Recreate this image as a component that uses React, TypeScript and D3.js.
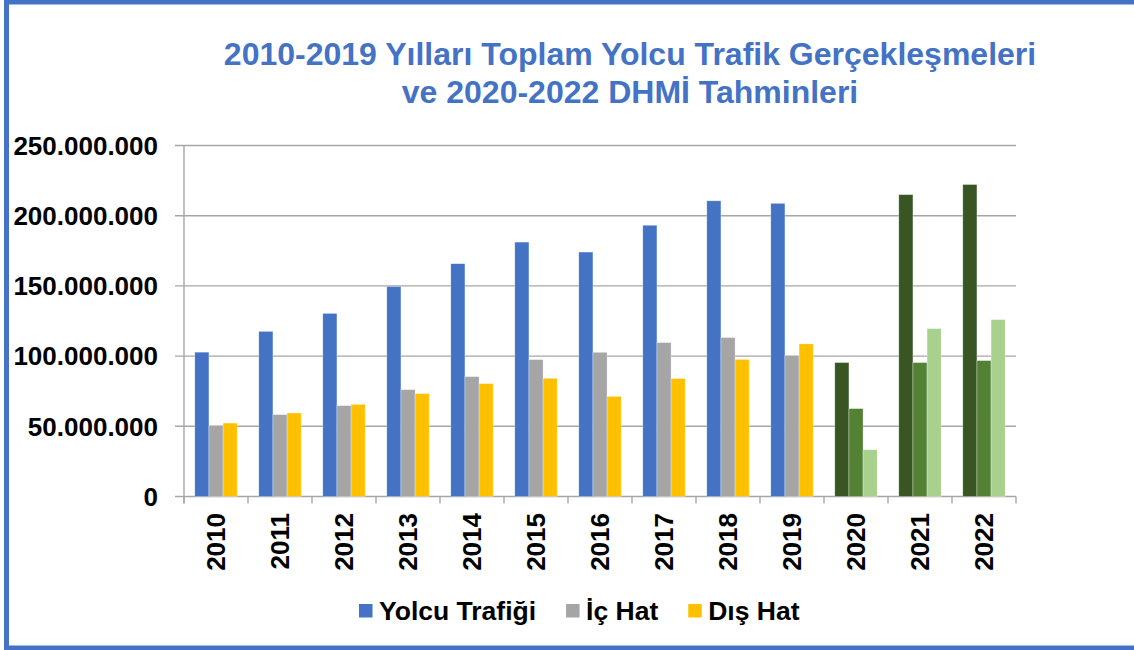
import * as React from "react";
import * as d3 from "d3";

const years = ["2010", "2011", "2012", "2013", "2014", "2015", "2016", "2017", "2018", "2019", "2020", "2021", "2022"];
const forecastYears = ["2020", "2021", "2022"];
const seriesNames = ["Yolcu Trafiği", "İç Hat", "Dış Hat"];
// values in passengers
const yolcuTrafigi = [102.8e6, 117.6e6, 130.4e6, 149.6e6, 165.8e6, 181.2e6, 174.1e6, 193.2e6, 210.6e6, 208.8e6, 95.4e6, 215e6, 222.2e6];
const icHat = [50.6e6, 58.3e6, 64.7e6, 76.1e6, 85.4e6, 97.5e6, 102.7e6, 109.6e6, 113.2e6, 100.4e6, 62.6e6, 95.4e6, 96.8e6];
const disHat = [52.3e6, 59.5e6, 65.6e6, 73.3e6, 80.4e6, 84.2e6, 71.3e6, 84e6, 97.7e6, 108.7e6, 33.3e6, 119.6e6, 126e6];
const yTicks = [0, 50e6, 100e6, 150e6, 200e6, 250e6];

const actualColors = ["#4472C4", "#A5A5A5", "#FFC000"];
const forecastColors = ["#375623", "#548235", "#A9D18E"];

const fontFamily = "'Liberation Sans', Arial, sans-serif";

function drawChart(svgRef) {
  const width = 1134;
  const height = 650;
  const left = 184, right = 1016, top = 145.5, bottom = 496.5;

  const svg = d3.select(svgRef.current).attr("width", width).attr("height", height);
  svg.selectAll("*").remove();

  const x = d3.scaleBand().domain(years).range([left, right]).padding(0);
  const x1 = d3.scaleBand().domain(["0", "1", "2"]).range([0, x.bandwidth()]).paddingInner(0).paddingOuter(0.765);
  const y = d3.scaleLinear().domain([0, 250e6]).range([bottom, top]);

  // frame
  svg.append("rect")
    .attr("x", 6.5).attr("y", 2)
    .attr("width", 1200).attr("height", 646)
    .attr("fill", "#fff")
    .attr("stroke", "#4472C4")
    .attr("stroke-width", 5);

  // title
  const title = svg.append("text")
    .attr("text-anchor", "middle")
    .attr("fill", "#4472C4")
    .attr("font-family", fontFamily)
    .attr("font-weight", "bold")
    .attr("font-size", 32);
  title.append("tspan").attr("x", 630).attr("y", 65).text("2010-2019 Yılları Toplam Yolcu Trafik Gerçekleşmeleri");
  title.append("tspan").attr("x", 630).attr("y", 103).text("ve 2020-2022 DHMİ Tahminleri");

  // gridlines
  svg.append("g")
    .selectAll("line")
    .data(yTicks)
    .enter()
    .append("line")
    .attr("x1", left - 9).attr("x2", right)
    .attr("y1", d => y(d)).attr("y2", d => y(d))
    .attr("stroke", "#A6A6A6")
    .attr("stroke-width", 1.4);

  // y axis line
  svg.append("line")
    .attr("x1", left).attr("x2", left)
    .attr("y1", top).attr("y2", bottom + 7)
    .attr("stroke", "#A6A6A6").attr("stroke-width", 1.4);

  // x ticks
  svg.append("g")
    .selectAll("line")
    .data(years.concat(["end"]))
    .enter()
    .append("line")
    .attr("x1", (d, i) => left + i * x.step()).attr("x2", (d, i) => left + i * x.step())
    .attr("y1", bottom).attr("y2", bottom + 7)
    .attr("stroke", "#A6A6A6").attr("stroke-width", 1.4);

  // y labels
  svg.append("g")
    .selectAll("text")
    .data(yTicks)
    .enter()
    .append("text")
    .attr("x", 158)
    .attr("y", d => y(d))
    .attr("dy", "0.36em")
    .attr("text-anchor", "end")
    .attr("font-family", fontFamily)
    .attr("font-weight", "bold")
    .attr("font-size", 26)
    .attr("fill", "#000")
    .text(d => d3.format(",")(d).replace(/,/g, "."));

  // x labels
  svg.append("g")
    .selectAll("text")
    .data(years)
    .enter()
    .append("text")
    .attr("transform", d => `translate(${x(d) + x.bandwidth() / 2}, 513) rotate(-90)`)
    .attr("dy", "0.36em")
    .attr("text-anchor", "end")
    .attr("font-family", fontFamily)
    .attr("font-weight", "bold")
    .attr("font-size", 26)
    .attr("fill", "#000")
    .text(d => d);

  // bars
  const series = [yolcuTrafigi, icHat, disHat];
  const rows = [];
  years.forEach((yr, i) => {
    series.forEach((vals, s) => {
      rows.push({ year: yr, s, value: vals[i] });
    });
  });

  svg.append("g")
    .selectAll("rect")
    .data(rows)
    .enter()
    .append("rect")
    .attr("x", d => x(d.year) + x1(String(d.s)))
    .attr("y", d => y(d.value))
    .attr("width", x1.bandwidth())
    .attr("height", d => bottom - y(d.value))
    .attr("fill", d => (forecastYears.includes(d.year) ? forecastColors : actualColors)[d.s])
    .attr("stroke", "#fff")
    .attr("stroke-opacity", 0.5)
    .attr("stroke-width", 0.6);

  // legend
  const legend = svg.append("g");
  let lx = 359;
  seriesNames.forEach((name, i) => {
    legend.append("rect")
      .attr("x", lx).attr("y", 604)
      .attr("width", 13.5).attr("height", 13.5)
      .attr("fill", actualColors[i]);
    const t = legend.append("text")
      .attr("x", lx + 20).attr("y", 619.5)
      .attr("font-family", fontFamily)
      .attr("font-weight", "bold")
      .attr("font-size", 26.5)
      .attr("fill", "#000")
      .text(name);
    lx = lx + 20 + t.node().getComputedTextLength() + 30;
  });
}

const App = () => {
  const svgRef = React.useRef(null);

  React.useEffect(() => {
    drawChart(svgRef);
  }, [svgRef]);

  return (
    <div style={{ position: "absolute", left: 0, top: 0 }}>
      <svg ref={svgRef} style={{ display: "block" }} />
    </div>
  );
};

export default App;
